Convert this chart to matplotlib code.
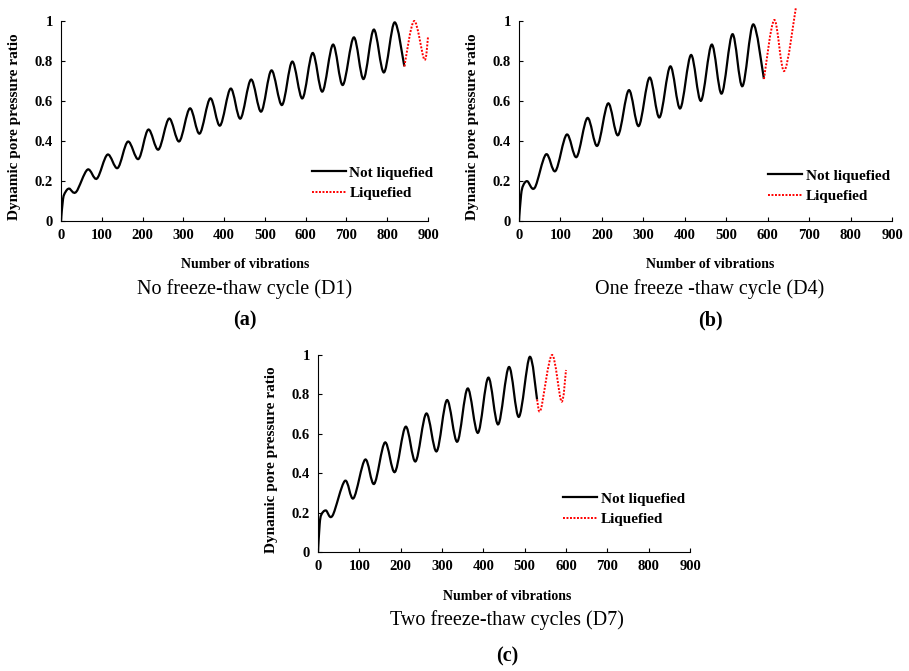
import numpy as np
import matplotlib
matplotlib.use('Agg')
import matplotlib.pyplot as plt
from matplotlib.path import Path
from matplotlib.patches import PathPatch
from matplotlib.lines import Line2D

plt.rcParams['font.family'] = ['Liberation Serif', 'DejaVu Serif']

# peaks / troughs (number of vibrations, pore pressure ratio)
xa = [0, 5, 11, 20, 37, 65, 88, 114, 139, 164, 190, 214, 239, 265, 290, 316, 340, 366, 390,
      416, 440, 466, 491, 516, 542, 567, 592, 617, 641, 667, 691, 718, 742, 767, 792, 818, 842]
ya = [0, 0.11, 0.145, 0.162, 0.145, 0.257, 0.212, 0.332, 0.265, 0.397, 0.31, 0.457, 0.357,
      0.512, 0.398, 0.563, 0.437, 0.613, 0.477, 0.662, 0.512, 0.707, 0.547, 0.753, 0.58,
      0.797, 0.613, 0.84, 0.647, 0.882, 0.68, 0.918, 0.71, 0.957, 0.743, 0.993, 0.773]
xa_liq = [842, 866, 891, 900]
ya_liq = [0.773, 1.0, 0.807, 0.92]

xb = [0, 5, 10, 20, 38, 65, 88, 115, 139, 165, 189, 215, 239, 265, 289, 315, 339, 365, 389,
      415, 439, 465, 489, 515, 539, 565, 591]
yb = [0, 0.13, 0.177, 0.199, 0.166, 0.333, 0.25, 0.432, 0.32, 0.515, 0.376, 0.588, 0.429,
      0.654, 0.475, 0.717, 0.518, 0.773, 0.563, 0.83, 0.601, 0.882, 0.637, 0.934, 0.674,
      0.983, 0.71]
xb_liq = [591, 616, 640, 668]
yb_liq = [0.71, 1.005, 0.75, 1.066]

xc = [0, 4, 8, 19, 35, 65, 86, 114, 136, 162, 186, 212, 236, 262, 287, 312, 337, 362, 387,
      412, 436, 462, 486, 512, 530]
yc = [0, 0.14, 0.189, 0.211, 0.184, 0.361, 0.273, 0.469, 0.346, 0.556, 0.406, 0.636, 0.46,
      0.703, 0.511, 0.771, 0.56, 0.83, 0.605, 0.885, 0.648, 0.939, 0.686, 0.99, 0.774]
xc_liq = [530, 539, 566, 589, 600]
yc_liq = [0.774, 0.723, 1.0, 0.764, 0.924]

xticks = list(range(0, 1000, 100))
yticks = [0, 0.2, 0.4, 0.6, 0.8, 1]
ytick_labels = ['0', '0.2', '0.4', '0.6', '0.8', '1']
legend_labels = ['Not liquefied', 'Liquefied']

DOT = (0, (1, 0.8))


def smooth(x, y):
    # excel-like smoothed line: bezier segments through the points
    pts = np.column_stack([x, y]).astype(float)
    n = len(pts)
    verts = [pts[0]]
    codes = [Path.MOVETO]
    for i in range(n - 1):
        p0 = pts[max(i - 1, 0)]
        p1 = pts[i]
        p2 = pts[i + 1]
        p3 = pts[min(i + 2, n - 1)]
        verts += [p1 + (p2 - p0) / 6, p2 - (p3 - p1) / 6, p2]
        codes += [Path.CURVE4] * 3
    return Path(verts, codes)


def panel(rect, x, y, xl, yl, ylab_x, leg_anchor):
    ax = fig.add_axes(rect)
    ax.add_patch(PathPatch(smooth(x, y), facecolor='none', edgecolor='black', lw=1.6))
    ax.add_patch(PathPatch(smooth(xl, yl), facecolor='none', edgecolor='red', lw=1.4,
                           ls=DOT, clip_on=False))
    ax.set_xlim(0, 900)
    ax.set_ylim(0, 1)
    ax.set_xticks(xticks)
    ax.set_yticks(yticks)
    ax.set_yticklabels(ytick_labels)
    ax.tick_params(direction='in', length=3, width=0.8, labelsize=10.5, pad=6)
    for lab in ax.get_xticklabels() + ax.get_yticklabels():
        lab.set_fontweight('bold')
    for s in ['top', 'right']:
        ax.spines[s].set_visible(False)
    for s in ['left', 'bottom']:
        ax.spines[s].set_linewidth(0.8)
    ax.set_ylabel('Dynamic pore pressure ratio', fontsize=11, fontweight='bold')
    ax.yaxis.set_label_coords(ylab_x, 0.47)
    handles = [Line2D([], [], color='black', lw=1.6),
               Line2D([], [], color='red', lw=1.4, ls=DOT)]
    ax.legend(handles, legend_labels, loc='upper left', bbox_to_anchor=leg_anchor,
              frameon=False, prop={'weight': 'bold', 'size': 11}, handlelength=2.2,
              handletextpad=0.25, borderpad=0, borderaxespad=0, labelspacing=0.45)
    return ax


fig = plt.figure(figsize=(9.09, 6.71), dpi=100)
W, H = 909, 671


def fr(l, t, r, b):
    return [l / W, 1 - b / H, (r - l) / W, (b - t) / H]


panel(fr(61, 21, 428, 221), xa, ya, xa_liq, ya_liq, -0.11, (0.684, 0.275))
panel(fr(519, 21, 892, 221), xb, yb, xb_liq, yb_liq, -0.108, (0.668, 0.26))
panel(fr(318, 355, 690, 552), xc, yc, xc_liq, yc_liq, -0.108, (0.659, 0.305))

captions = [
    (245, 264, 289, 320, 'No freeze-thaw cycle (D1)', '(a)'),
    (710, 264, 289, 320, 'One freeze -thaw cycle (D4)', '(b)'),
    (507, 597, 620, 656, 'Two freeze-thaw cycles (D7)', '(c)'),
]
for cx, y1, y2, y3, sub, tag in captions:
    fig.text(cx / W, 1 - y1 / H, 'Number of vibrations', ha='center', va='center',
             fontsize=10, fontweight='bold')
    fig.text(cx / W, 1 - y2 / H, sub, ha='center', va='center', fontsize=14.5)
    fig.text(cx / W, 1 - y3 / H, tag, ha='center', va='center', fontsize=14.5, fontweight='bold')

fig.savefig('out.png', dpi=100)
